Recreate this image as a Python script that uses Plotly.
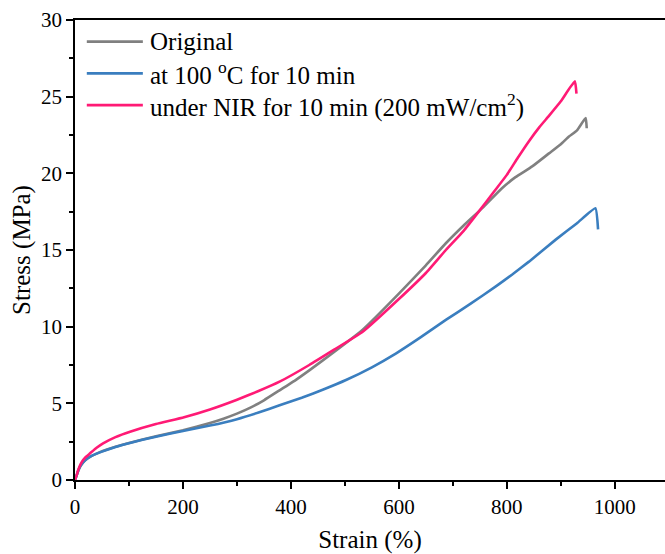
import plotly.graph_objects as go

orig_x = [0, 3, 6, 10, 15, 20, 30, 40, 50, 75, 100, 150, 200, 250, 275, 300, 325, 350, 379, 410, 434, 480, 533, 600, 650, 687, 720, 755, 790, 816, 847, 878, 900, 915, 930, 946, 948]
orig_y = [0, 0.3, 0.6, 0.9, 1.15, 1.32, 1.55, 1.72, 1.87, 2.17, 2.42, 2.85, 3.25, 3.72, 4.0, 4.33, 4.72, 5.2, 5.85, 6.55, 7.15, 8.35, 9.8, 12.15, 14.0, 15.44, 16.6, 17.75, 19.0, 19.75, 20.45, 21.3, 21.9, 22.4, 22.8, 23.6, 22.94]

heat_x = [0, 3, 6, 10, 15, 20, 30, 40, 50, 75, 100, 125, 150, 200, 250, 300, 340, 379, 420, 460, 502, 550, 595, 640, 687, 733, 779, 810, 841, 890, 930, 964, 969]
heat_y = [0, 0.3, 0.6, 0.9, 1.15, 1.32, 1.55, 1.72, 1.85, 2.15, 2.4, 2.62, 2.82, 3.2, 3.55, 3.97, 4.4, 4.87, 5.36, 5.9, 6.52, 7.35, 8.26, 9.3, 10.44, 11.5, 12.61, 13.4, 14.24, 15.66, 16.75, 17.72, 16.35]

nir_x = [0, 3, 6, 10, 15, 20, 28, 40, 52, 75, 102, 150, 202, 250, 299, 340, 379, 434, 480, 533, 600, 650, 687, 720, 749, 775, 800, 820, 841, 860, 878, 900, 926, 929]
nir_y = [0, 0.3, 0.65, 1.0, 1.3, 1.5, 1.74, 2.1, 2.39, 2.8, 3.15, 3.65, 4.09, 4.6, 5.22, 5.8, 6.41, 7.5, 8.5, 9.67, 11.8, 13.5, 15.0, 16.25, 17.55, 18.75, 19.9, 21.0, 22.1, 23.0, 23.75, 24.7, 26.0, 25.2]

names = ["Original", "at 100 <sup>o</sup>C for 10 min", "under NIR for 10 min (200 mW/cm<sup>2</sup>)"]
colors = ["#808080", "#3a7ebf", "#ff1a75"]

FONT = "Liberation Serif"

fig = go.Figure()
for xs, ys, nm, c in zip([orig_x, heat_x, nir_x], [orig_y, heat_y, nir_y], names, colors):
    fig.add_trace(go.Scatter(x=xs, y=ys, mode="lines", name=nm, showlegend=False,
                             line=dict(color=c, width=2.6, shape="spline", smoothing=0.4)))

# legend drawn as paper-positioned keys and labels
leg_y = [0.953, 0.884, 0.815]
for nm, c, yy in zip(names, colors, leg_y):
    fig.add_shape(type="line", xref="paper", yref="paper", x0=0.020, x1=0.115, y0=yy, y1=yy,
                  line=dict(color=c, width=2.6))
    fig.add_annotation(xref="paper", yref="paper", x=0.124, y=yy, text=nm, showarrow=False,
                       xanchor="left", yanchor="middle",
                       font=dict(family=FONT, size=25, color="black"))

fig.update_layout(
    width=665, height=554,
    margin=dict(l=75, r=0, t=20, b=74),
    paper_bgcolor="white", plot_bgcolor="white",
    font=dict(family=FONT, size=21, color="black"),
    showlegend=False,
    xaxis=dict(range=[0, 1093], showline=True, linecolor="black", linewidth=1.5,
               mirror=True, ticks="outside", ticklen=7, tickwidth=1.5, tickcolor="black",
               tickvals=[0, 200, 400, 600, 800, 1000],
               minor=dict(tickvals=[100, 300, 500, 700, 900, 1100], ticks="outside", ticklen=4,
                          tickwidth=1.5, tickcolor="black"),
               showgrid=False, zeroline=False,
               tickfont=dict(family=FONT, size=21),
               title=dict(text="Strain (%)", font=dict(family=FONT, size=25), standoff=14)),
    yaxis=dict(range=[0, 30], showline=True, linecolor="black", linewidth=1.5,
               mirror=False, ticks="outside", ticklen=7, tickwidth=1.5, tickcolor="black",
               tickvals=[0, 5, 10, 15, 20, 25, 30],
               minor=dict(tickvals=[2.5, 7.5, 12.5, 17.5, 22.5, 27.5], ticks="outside", ticklen=4,
                          tickwidth=1.5, tickcolor="black"),
               showgrid=False, zeroline=False,
               tickfont=dict(family=FONT, size=21),
               title=dict(text="Stress (MPa)", font=dict(family=FONT, size=25), standoff=3)),
)

fig.write_html("out.html")
